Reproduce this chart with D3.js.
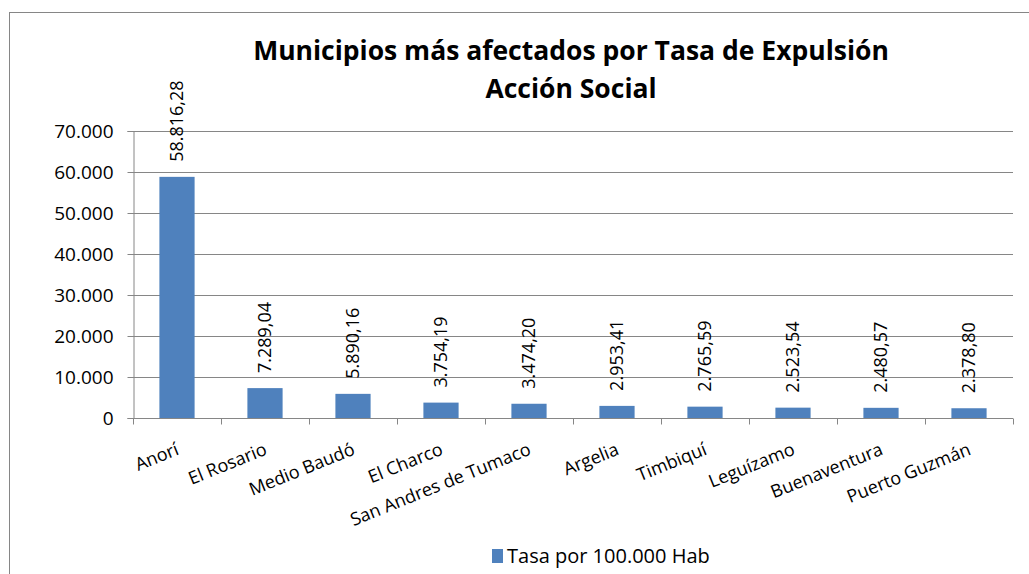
<!DOCTYPE html>
<html>
<head>
<meta charset="utf-8">
<script src="https://cdn.jsdelivr.net/npm/d3@7"></script>
<style>
  body { margin: 0; background: #fff; }
  text { font-family: "Open Sans", sans-serif; fill: #000; }
</style>
</head>
<body>
<script>
// Chart data
const municipios = ["Anorí", "El Rosario", "Medio Baudó", "El Charco", "San Andres de Tumaco",
  "Argelia", "Timbiquí", "Leguízamo", "Buenaventura", "Puerto Guzmán"];
const tasas = [58816.28, 7289.04, 5890.16, 3754.19, 3474.20, 2953.41, 2765.59, 2523.54, 2480.57, 2378.80];
const yTicks = [0, 10000, 20000, 30000, 40000, 50000, 60000, 70000];
const titleLines = ["Municipios más afectados por Tasa de Expulsión", "Acción Social"];
const legendLabel = "Tasa por 100.000 Hab";

const data = municipios.map((m, i) => ({ name: m, value: tasas[i] }));

// Spanish number format: 58.816,28
const es = d3.formatLocale({ decimal: ",", thousands: ".", grouping: [3], currency: ["", ""] });
const fmtLabel = es.format(",.2f");
const fmtTick = es.format(",");

const W = 1029, H = 574;
const plot = { left: 133, right: 1013, top: 131, bottom: 418 };
const barColor = "#4F81BD";
const gridColor = "#868686";

const svg = d3.select("body").append("svg")
  .attr("width", W)
  .attr("height", H);

// Outer chart border (extends past the window)
svg.append("rect")
  .attr("x", 9.5).attr("y", 12.5)
  .attr("width", W + 20).attr("height", H + 20)
  .attr("fill", "none")
  .attr("stroke", gridColor)
  .attr("stroke-width", 1);

const x = d3.scaleBand()
  .domain(municipios)
  .range([plot.left, plot.right]);

const y = d3.scaleLinear()
  .domain([0, 70000])
  .range([plot.bottom, plot.top]);

// Gridlines
svg.append("g")
  .selectAll("line")
  .data(yTicks.filter(d => d > 0))
  .enter().append("line")
  .attr("x1", plot.left).attr("x2", plot.right)
  .attr("y1", d => Math.round(y(d)) + 0.5)
  .attr("y2", d => Math.round(y(d)) + 0.5)
  .attr("stroke", gridColor);

// Y axis
const yAxis = svg.append("g")
  .attr("transform", `translate(${plot.left + 0.5},0)`)
  .call(d3.axisLeft(y).tickValues(yTicks).tickFormat(fmtTick).tickSize(6).tickPadding(14));
yAxis.selectAll("path, line").attr("stroke", gridColor);
yAxis.selectAll("text").attr("font-size", 19).attr("font-family", "Open Sans").attr("fill", "#000");

// Bars
svg.append("g")
  .selectAll("rect")
  .data(data)
  .enter().append("rect")
  .attr("x", d => x(d.name) + x.bandwidth() * 0.3)
  .attr("width", x.bandwidth() * 0.4)
  .attr("y", d => y(d.value))
  .attr("height", d => y(0) - y(d.value))
  .attr("fill", barColor);

// X axis with ticks at category boundaries
const xAxis = svg.append("g")
  .attr("transform", `translate(0,${plot.bottom + 0.5})`);
xAxis.append("line")
  .attr("x1", plot.left).attr("x2", plot.right)
  .attr("stroke", gridColor);
xAxis.selectAll(".tick")
  .data(d3.range(municipios.length + 1))
  .enter().append("line")
  .attr("x1", i => Math.round(plot.left + i * x.step()) + 0.5)
  .attr("x2", i => Math.round(plot.left + i * x.step()) + 0.5)
  .attr("y1", 0).attr("y2", 6)
  .attr("stroke", gridColor);

// Rotated category labels
svg.append("g")
  .selectAll("text")
  .data(data)
  .enter().append("text")
  .attr("transform", d => `translate(${x(d.name) + x.bandwidth() / 2 + 3},${plot.bottom + 36}) rotate(-22)`)
  .attr("text-anchor", "end")
  .attr("font-size", 18)
  .text(d => d.name);

// Value labels, vertical
svg.append("g")
  .selectAll("text")
  .data(data)
  .enter().append("text")
  .attr("transform", d => `translate(${x(d.name) + x.bandwidth() / 2},${y(d.value) - 15}) rotate(-90)`)
  .attr("text-anchor", "start")
  .attr("dy", "0.36em")
  .attr("font-size", 18)
  .text(d => fmtLabel(d.value));

// Title
svg.append("g")
  .selectAll("text")
  .data(titleLines)
  .enter().append("text")
  .attr("x", 571)
  .attr("y", (d, i) => 60 + i * 38)
  .attr("text-anchor", "middle")
  .attr("font-size", 26.5)
  .attr("font-weight", "bold")
  .text(d => d);

// Legend
const legend = svg.append("g").attr("transform", "translate(492,556)");
legend.append("rect")
  .attr("x", 0).attr("y", -7)
  .attr("width", 11).attr("height", 14)
  .attr("fill", barColor);
legend.append("text")
  .attr("x", 15)
  .attr("dy", "0.36em")
  .attr("font-size", 20)
  .text(legendLabel);
</script>
</body>
</html>
